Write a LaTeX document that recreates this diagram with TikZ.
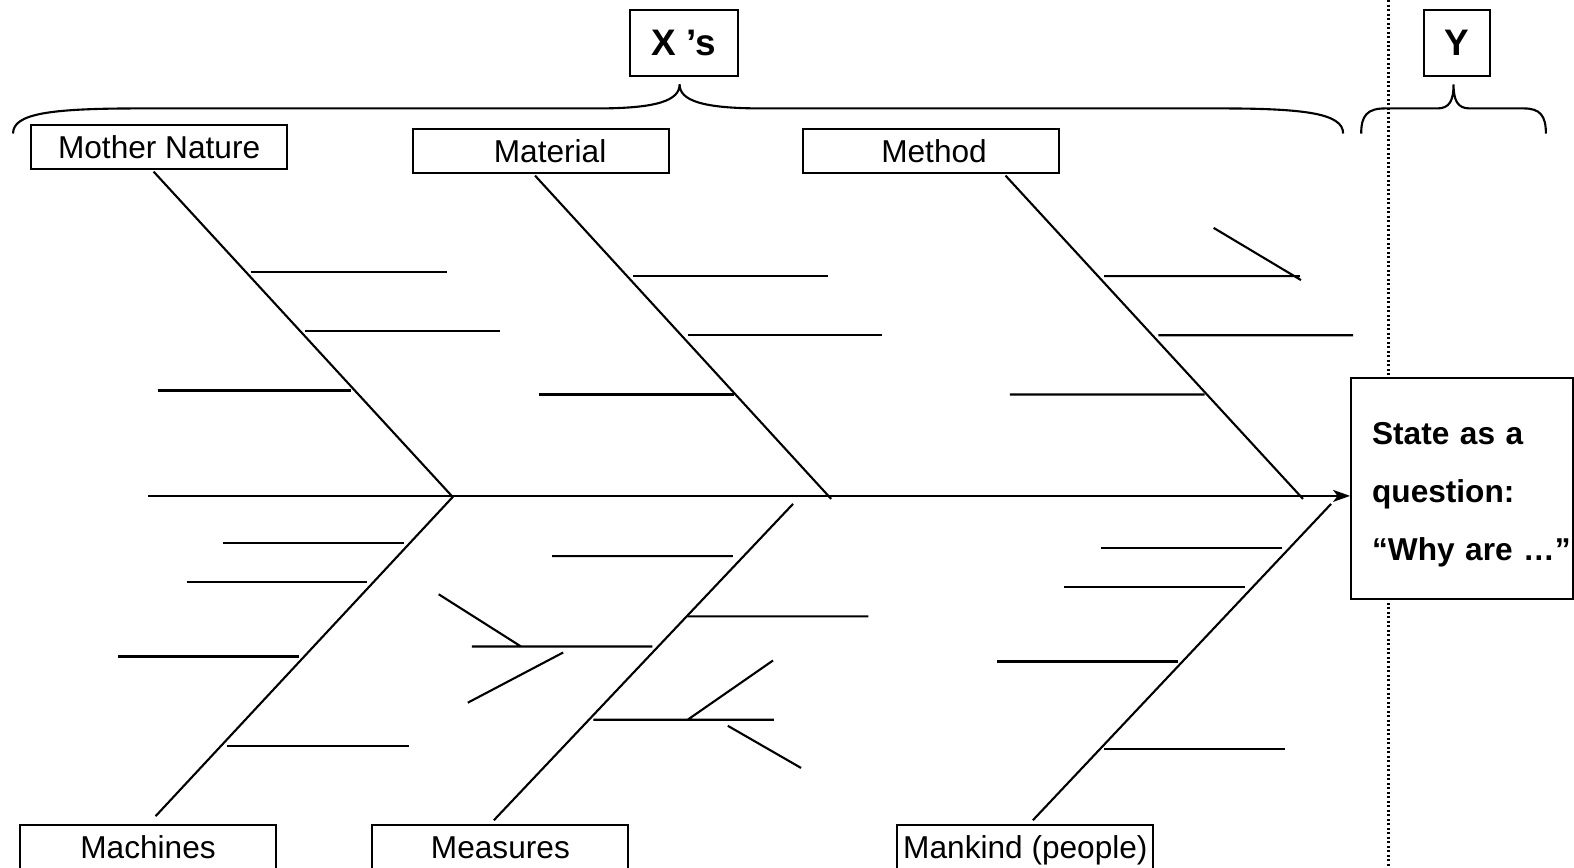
\documentclass[tikz,border=0pt]{standalone}
\usepackage{fontspec}
\setmainfont{Liberation Sans}
\usetikzlibrary{arrows.meta, positioning}

\begin{document}
\begin{tikzpicture}[x=0.1004mm, y=-0.1004mm, line width=0.6pt,
    cat/.style={draw, fill=white, minimum width=25.6mm, minimum height=4.4mm, inner sep=0pt,
      text height=6.6pt, text depth=0pt, font=\fontsize{9}{11}\selectfont},
    hdr/.style={draw, minimum height=6.6mm, inner sep=0pt, font=\fontsize{10.5}{12}\selectfont\bfseries}]
        \useasboundingbox (0,0) rectangle (1568,864);

        % Y side separator
        \draw[line width=0.7pt, dash pattern=on 0.2mm off 0.25mm] (1383,0) -- (1383,864);

        \draw node[hdr, minimum width=10.8mm] (xs) at (681,43) {X ’s}
        node[hdr, minimum width=6.6mm] (ys) at (1451,43) {Y}
        node[cat] (nature) at (158.5,146) {Mother Nature}
        node[cat] (material) at (539,150) {\hspace*{1.8mm}Material}
        node[cat] (method) at (927.5,150) {\hspace*{0.6mm}Method}
        node[cat] (machines) at (147.5,844) {Machines}
        node[cat] (measures) at (498.5,844) {Measures}
        node[cat] (mankind) at (1021.5,844) {Mankind (people)};

        \node[draw, fill=white, minimum height=22.1mm, text width=18mm, inner xsep=2.1mm, align=left,
          font=\fontsize{9}{16.5}\selectfont\bfseries] (effect) at (1456.5,487)
          {\rule{0pt}{9.8pt}State as a\\question:\\\mbox{“Why are …”}};

        % braces
        \draw (13,133) .. controls (13,113) and (50,108) .. (140,108) -- (595,108)
          .. controls (655,108) and (677,100) .. (677,84)
          .. controls (677,100) and (699,108) .. (759,108) -- (1215,108)
          .. controls (1300,108) and (1338,113) .. (1338,133);
        \draw (1356,133) .. controls (1356,115) and (1362,108) .. (1380,108) -- (1432,108)
          .. controls (1444,108) and (1448,100) .. (1448,84)
          .. controls (1448,100) and (1452,108) .. (1464,108) -- (1518,108)
          .. controls (1534,108) and (1540,115) .. (1540,133);

        % spine
        \coordinate (tail) at (147,494);
        \draw[-{Stealth[length=1.7mm, width=1.2mm, inset=0.45mm]}] (tail) -- (tail -| effect.west);

        % bones
        \coordinate (j1) at (450,494);
        \coordinate (j2) at (828,497);
        \coordinate (j3) at (1298,497);
        \coordinate (j4) at (452,494);
        \coordinate (j5) at (790,502);
        \coordinate (j6) at (1326,502);
        \path[draw] ([xshift=-0.55mm, yshift=-0.2mm]nature.south) -- (j1)
        ([xshift=-0.6mm, yshift=-0.2mm]material.south) -- (j2)
        ([xshift=7.45mm, yshift=-0.2mm]method.south) -- (j3)
        ([xshift=0.75mm, yshift=0.8mm]machines.north) -- (j4)
        ([xshift=-0.65mm, yshift=0.4mm]measures.north) -- (j5)
        ([xshift=0.75mm, yshift=0.4mm]mankind.north) -- (j6);

        % ribs
        \draw (250,271) -- (445,271) (304,330) -- (498,330) (157,389) -- (350,389);
        \draw (631,275) -- (825,275) (685,334) -- (879,334) (537,393) -- (731,393);
        \draw (1100,275) -- (1295,275) (1154,334) -- (1348,334) (1006,393) -- (1200,393)
          (1209,227) -- (1296,279);
        \draw (222,541) -- (402,541) (186,580) -- (366,580) (118,654) -- (298,654) (226,743) -- (407,743);
        \draw (550,554) -- (730,554) (685,614) -- (865,614) (470,644) -- (650,644)
          (437,592) -- (519,644) (466,700) -- (561,650)
          (591,717) -- (771,717) (685,717) -- (770,658) (725,723) -- (798,765);
        \draw (1097,546) -- (1277,546) (1060,585) -- (1240,585) (993,659) -- (1173,659) (1100,746) -- (1280,746);
      \end{tikzpicture}
\end{document}
